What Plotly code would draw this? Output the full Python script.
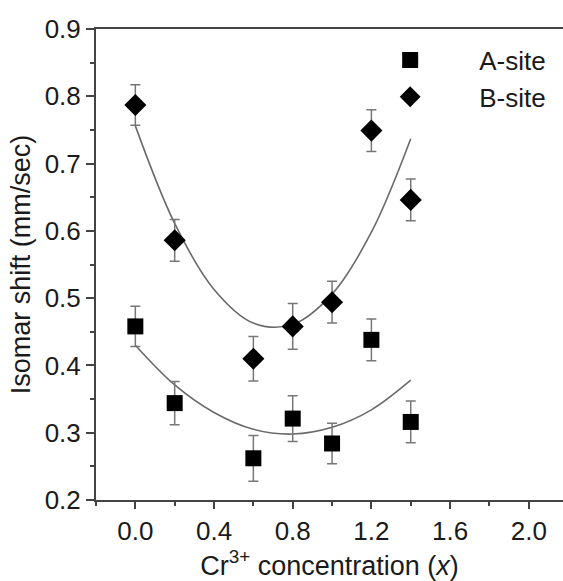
import plotly.graph_objects as go

# data
x_conc = [0.0, 0.2, 0.6, 0.8, 1.0, 1.2, 1.4]
a_site = [0.458, 0.344, 0.262, 0.321, 0.284, 0.438, 0.316]
b_site = [0.787, 0.586, 0.410, 0.458, 0.494, 0.749, 0.646]
a_err = [0.030, 0.032, 0.034, 0.034, 0.030, 0.031, 0.031]
b_err = [0.030, 0.031, 0.033, 0.034, 0.031, 0.031, 0.031]

# fitted curves
fit_x = [0.0, 0.2, 0.4, 0.6, 0.8, 1.0, 1.2, 1.4]
fit_a = [0.430, 0.371, 0.330, 0.305, 0.298, 0.308, 0.334, 0.378]
fit_b = [0.756, 0.611, 0.513, 0.463, 0.461, 0.506, 0.598, 0.737]

FONT = "Liberation Sans, Arial, sans-serif"
fig = go.Figure()

fig.add_trace(go.Scatter(x=fit_x, y=fit_a, mode="lines", line=dict(color="#6a6a6a", width=1.6, shape="spline"),
                         showlegend=False, hoverinfo="skip"))
fig.add_trace(go.Scatter(x=fit_x, y=fit_b, mode="lines", line=dict(color="#6a6a6a", width=1.6, shape="spline"),
                         showlegend=False, hoverinfo="skip"))

fig.add_trace(go.Scatter(x=x_conc, y=a_site, mode="markers", name="A-site",
                         marker=dict(symbol="square", size=16, color="black"),
                         error_y=dict(type="data", array=a_err, visible=True, color="#777777", thickness=1.5, width=5)))
fig.add_trace(go.Scatter(x=x_conc, y=b_site, mode="markers", name="B-site",
                         marker=dict(symbol="diamond", size=17, color="black"),
                         error_y=dict(type="data", array=b_err, visible=True, color="#777777", thickness=1.5, width=5)))

fig.update_layout(
    width=563, height=581,
    margin=dict(l=96, r=0, t=29, b=81),
    plot_bgcolor="white", paper_bgcolor="white",
    font=dict(family=FONT, size=26, color="#1a1a1a"),
    legend=dict(x=0.525, y=0.984, xanchor="left", yanchor="top", itemwidth=128,
                bgcolor="rgba(0,0,0,0)", font=dict(size=26), tracegroupgap=0),
    xaxis=dict(range=[-0.2, 2.174], dtick=0.4, tick0=0, tickformat=".1f",
               showline=True, linecolor="#444", linewidth=2, mirror=True,
               ticks="outside", ticklen=7, tickwidth=2, tickcolor="#444",
               minor=dict(dtick=0.2, ticks="outside", ticklen=4, tickwidth=2, tickcolor="#444"),
               showgrid=False, zeroline=False,
               title=dict(text="Cr<sup>3+</sup> concentration (<i>x</i>)", font=dict(size=27), standoff=8)),
    yaxis=dict(range=[0.2, 0.9], dtick=0.1, tick0=0.2, tickformat=".1f",
               showline=True, linecolor="#444", linewidth=2, mirror=False,
               ticks="outside", ticklen=8, tickwidth=2, tickcolor="#444",
               minor=dict(dtick=0.05, ticks="outside", ticklen=4, tickwidth=2, tickcolor="#444"),
               showgrid=False, zeroline=False,
               title=dict(text="Isomar shift (mm/sec)", font=dict(size=27), standoff=6)),
)

fig.write_html("out.html")
